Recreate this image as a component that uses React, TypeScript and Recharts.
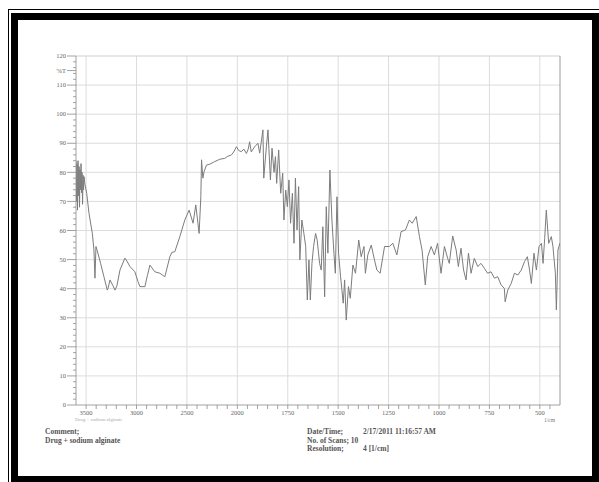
import { LineChart, Line, XAxis, YAxis, CartesianGrid, ReferenceLine } from 'recharts'

// FTIR transmittance trace, wavenumber (1/cm) vs %T
const wavenumbers = [
  3600, 3595, 3590, 3585, 3580, 3575, 3570, 3565, 3560, 3555, 3550, 3545, 3540, 3535, 3530, 3525, 3520, 3512,
  3494, 3471, 3438, 3422, 3412, 3402, 3389, 3356, 3323, 3290, 3283, 3263, 3233, 3214, 3194, 3164, 3115, 3095,
  3065, 3016, 2986, 2966, 2917, 2892, 2867, 2818, 2768, 2719, 2669, 2649, 2620, 2570, 2521, 2478, 2439, 2412,
  2379, 2362, 2355, 2342, 2330, 2306, 2273, 2224, 2174, 2125, 2095, 2058, 2036, 2009, 1993, 1980, 1968, 1955,
  1946, 1939, 1931, 1914, 1898, 1889, 1873, 1869, 1856, 1848, 1836, 1828, 1818, 1811, 1805, 1795, 1785, 1775,
  1769, 1760, 1752, 1744, 1736, 1727, 1719, 1712, 1704, 1696, 1690, 1680, 1670, 1661, 1653, 1645, 1638, 1630,
  1622, 1612, 1604, 1592, 1584, 1576, 1567, 1559, 1551, 1541, 1531, 1521, 1514, 1506, 1498, 1488, 1475, 1468,
  1460, 1449, 1440, 1427, 1414, 1398, 1386, 1372, 1365, 1353, 1336, 1320, 1308, 1292, 1270, 1246, 1229, 1209,
  1188, 1166, 1147, 1133, 1113, 1097, 1084, 1068, 1056, 1039, 1023, 1007, 990, 973, 957, 949, 932, 915,
  904, 891, 878, 866, 854, 841, 825, 808, 792, 775, 759, 742, 725, 709, 692, 676, 672, 659,
  642, 626, 609, 592, 576, 562, 551, 542, 529, 517, 504, 492, 484, 476, 468, 456, 443, 435,
  423, 418, 410, 401,
]
const transmittance = [
  84, 70, 83, 67, 84, 72, 82, 68, 81, 74, 83, 73, 80, 69, 79, 74, 78.5, 76,
  72.8, 65.9, 59, 53.3, 43.6, 54.5, 53, 48.7, 44.1, 39.5, 40, 43, 41, 39.5, 41, 46.4, 50.5, 49.5,
  47.6, 45.8, 42.5, 40.7, 40.7, 44.5, 48.1, 45.8, 45.3, 44.1, 51, 52.5, 52.7, 57.9, 63.6, 67, 62.5, 68.8,
  59, 71.6, 84.3, 78, 80.2, 82.5, 82.8, 83.7, 84.5, 84.8, 85.5, 86, 87, 88.8, 87.5, 87.1, 88, 86.5,
  88, 90.5, 87, 88.8, 90, 86.6, 94.6, 78, 88.8, 94.6, 77.4, 88.3, 80, 85.4, 76.2, 87.7, 72.8, 79.7,
  63.6, 73.9, 68.2, 77.4, 62.5, 72.8, 55.6, 78, 60.2, 75.1, 49.9, 63.6, 59, 54.5, 36.1, 49.9, 36.1, 48.7,
  54.5, 59, 56.7, 48.7, 46.4, 61.3, 37.2, 68.2, 52.2, 80.8, 63.6, 52.2, 45.3, 71.6, 52.2, 44.1, 35, 43,
  29.2, 40.7, 36.7, 48.1, 45.3, 56.7, 51, 54.5, 45.3, 51.6, 55, 49.9, 46.4, 45.3, 54.5, 54.5, 55.6, 51.6,
  59.6, 60.2, 63.6, 62.5, 64.8, 57.9, 53.3, 41.3, 51, 54.5, 51.6, 55.6, 45.3, 54.5, 50.4, 48.7, 58.1, 53.3,
  47.6, 53.9, 46.4, 43, 52.2, 45.3, 50.4, 47.6, 48.7, 47, 45.3, 45.8, 43.6, 44.1, 41.3, 40.1, 35.5, 39.5,
  41.8, 45.3, 44.7, 46.4, 49.3, 51, 46.4, 41.8, 52.2, 46.4, 54.5, 55.6, 48.7, 57.3, 67, 55.6, 57.9, 54.5,
  45.3, 32.7, 53.3, 55.6,
]

const xTickLabels = [3500, 3000, 2500, 2000, 1750, 1500, 1250, 1000, 750, 500]
const yTickLabels = [0, 10, 20, 30, 40, 50, 60, 70, 80, 90, 100, 110, 120]

// the axis is split at 2000 1/cm: 500 per division above, 250 per division below
const WN_MAX = 3600
const WN_MIN = 400
function toPos(w: number) {
  return w >= 2000 ? (WN_MAX - w) / 500 : 3.2 + (2000 - w) / 250
}
const POS_MAX = toPos(WN_MIN)

const rows = wavenumbers.map((w, i) => ({ pos: toPos(w), t: transmittance[i] }))

const majorPos = xTickLabels.map(toPos)
const xTicks = Array.from({ length: 47 }, (_, i) => +(0.2 * (i + 1)).toFixed(1))
const yTicks = [...Array.from({ length: 61 }, (_, i) => i * 2), 115]

const serif = '"Liberation Serif", "DejaVu Serif", serif'
const axisGrey = '#8a8a8a'

function XTick(props: any) {
  const { x, y, payload } = props
  const idx = majorPos.findIndex(p => Math.abs(p - payload.value) < 1e-6)
  return (
    <g>
      <line x1={x} x2={x} y1={y} y2={y + 4} stroke={axisGrey} strokeWidth={0.8} />
      {idx >= 0 && (
        <text x={x} y={y + 10} textAnchor="middle" fontSize={6.5} fill="#666" fontFamily={serif}>
          {xTickLabels[idx]}
        </text>
      )}
    </g>
  )
}

function YTick(props: any) {
  const { x, y, payload } = props
  const v = payload.value as number
  const major = v % 10 === 0 || v === 115
  return (
    <g>
      <line x1={x - (major ? 9 : 3)} x2={x} y1={y} y2={y} stroke={axisGrey} strokeWidth={0.8} />
      {major && (
        <text x={x - 10} y={y + 2.2} textAnchor="end" fontSize={6.5} fill="#666" fontFamily={serif}>
          {v === 115 ? '%T' : v}
        </text>
      )}
    </g>
  )
}

const noteStyle = { position: 'absolute' as const, fontFamily: serif, fontSize: 7.5, fontWeight: 700, color: '#555', lineHeight: '8.5px', whiteSpace: 'pre' as const }

export default function App() {
  return (
    <div style={{ position: 'absolute', left: 0, top: 0, width: 599, height: 482, background: '#fff', overflow: 'hidden' }}>
      {/* double frame */}
      <div style={{ position: 'absolute', left: 8, top: 9, width: 620, height: 500, border: '1.5px solid #000', boxSizing: 'border-box' }} />
      <div style={{ position: 'absolute', left: 11, top: 13, width: 588, height: 469, borderStyle: 'solid', borderColor: '#000', borderWidth: '7px 7px 6px 7px', boxSizing: 'border-box', background: '#fff' }} />

      <LineChart
        width={599}
        height={482}
        data={rows}
        margin={{ top: 56, right: 39, bottom: 47, left: 36 }}
        style={{ position: 'absolute', left: 0, top: 0 }}
      >
        <CartesianGrid
          stroke="#dcdcdc"
          strokeWidth={1}
          horizontalValues={yTickLabels.slice(1, -1)}
          verticalValues={majorPos}
        />
        <XAxis
          dataKey="pos"
          type="number"
          domain={[0, POS_MAX]}
          ticks={xTicks}
          interval={0}
          tickSize={0}
          tickMargin={0}
          tick={XTick}
          axisLine={{ stroke: axisGrey, strokeWidth: 0.8 }}
          height={30}
          allowDataOverflow
        />
        <YAxis
          type="number"
          domain={[0, 120]}
          ticks={yTicks}
          interval={0}
          tickSize={0}
          tickMargin={0}
          tick={YTick}
          axisLine={{ stroke: axisGrey, strokeWidth: 0.8 }}
          width={40}
          allowDataOverflow
        />
        <ReferenceLine y={120} stroke="#cfcfcf" strokeWidth={1} />
        <ReferenceLine x={POS_MAX} stroke="#9a9a9a" strokeWidth={1} />
        <Line type="linear" dataKey="t" stroke="#7c7c7c" strokeWidth={1} dot={false} isAnimationActive={false} />
      </LineChart>

      <div style={{ position: 'absolute', left: 75, top: 417, fontFamily: serif, fontSize: 5, color: '#aaa' }}>Drug + sodium alginate</div>
      <div style={{ position: 'absolute', left: 544, top: 417, fontFamily: serif, fontSize: 5.5, color: '#777' }}>1/cm</div>

      <div style={{ ...noteStyle, left: 45, top: 428 }}>{'Comment;\nDrug + sodium alginate'}</div>
      <div style={{ ...noteStyle, left: 307, top: 428 }}>{'Date/Time;\nNo. of Scans; 10\nResolution;'}</div>
      <div style={{ ...noteStyle, left: 363, top: 428 }}>{'2/17/2011 11:16:57 AM'}</div>
      <div style={{ ...noteStyle, left: 363, top: 445 }}>{'4 [1/cm]'}</div>
    </div>
  )
}
